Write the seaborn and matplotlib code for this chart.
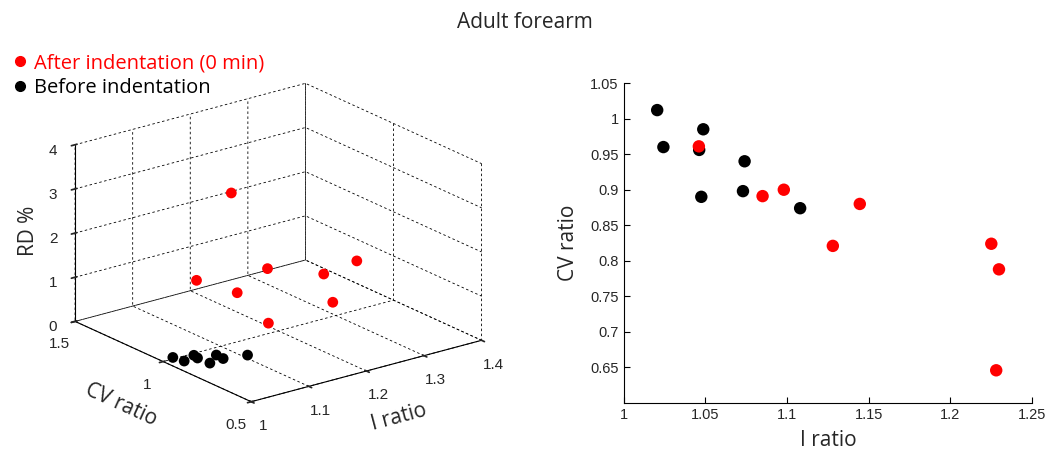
import numpy as np
import pandas as pd
import matplotlib
matplotlib.use("Agg")
import matplotlib.pyplot as plt
import seaborn as sns
from matplotlib.lines import Line2D

# values
before_i = [1.0205, 1.0243, 1.0462, 1.0487, 1.0475, 1.074, 1.073, 1.108]
before_cv = [1.012, 0.960, 0.956, 0.985, 0.890, 0.940, 0.898, 0.874]
before_rd = [0, 0, 0, 0, 0, 0, 0, 0]

after_i = [1.046, 1.085, 1.098, 1.128, 1.1445, 1.225, 1.2297, 1.228]
after_cv = [0.961, 0.891, 0.900, 0.821, 0.880, 0.824, 0.788, 0.646]
after_rd = [1.75, 3.72, 1.40, 0.75, 1.82, 1.52, 0.93, 2.13]

labels = ["After indentation (0 min)", "Before indentation"]
colors = {"After indentation (0 min)": "#ff0000", "Before indentation": "#000000"}

df = pd.DataFrame({
    "I ratio": before_i + after_i,
    "CV ratio": before_cv + after_cv,
    "RD": before_rd + after_rd,
    "group": [labels[1]] * len(before_i) + [labels[0]] * len(after_i),
})

sns.set_theme(style="white")
plt.rcParams["font.family"] = ["Liberation Sans", "DejaVu Sans"]
plt.rcParams["grid.linestyle"] = (0, (3, 3))
plt.rcParams["grid.color"] = "black"
plt.rcParams["grid.linewidth"] = 0.6

label_font = {"family": "Open Sans", "size": 15}

fig = plt.figure(figsize=(10.5, 4.59), dpi=100)
fig.text(0.5, 0.95, "Adult forearm", ha="center", va="center", fontsize=15, family="Open Sans")

# ---- left: 3D view ----
ax3 = fig.add_axes([0.0, 0.03, 0.52, 0.86], projection="3d", proj_type="ortho")
ax3.set_box_aspect((1, 1, 0.65), zoom=1.11)
ax3.view_init(elev=20.4, azim=-127.4)
for g in labels:
    sub = df[df["group"] == g]
    ax3.scatter(sub["I ratio"], sub["CV ratio"], sub["RD"], color=colors[g], s=60,
                depthshade=False, edgecolors="none")
ax3.set_xlim(1, 1.4)
ax3.set_ylim(0.5, 1.5)
ax3.set_zlim(0, 4)
ax3.set_xticks([1, 1.1, 1.2, 1.3, 1.4])
ax3.set_yticks([0.5, 1, 1.5])
ax3.set_zticks([0, 1, 2, 3, 4])
ax3.set_xticklabels(["1", "1.1", "1.2", "1.3", "1.4"])
ax3.set_yticklabels(["0.5", "1", "1.5"])
for a in (ax3.xaxis, ax3.yaxis, ax3.zaxis):
    a.set_pane_color((1, 1, 1, 0))
    a.pane.set_edgecolor("none")
    a.line.set_color("black")
    a.line.set_linewidth(0.8)
ax3.tick_params(labelsize=11, colors="#262626", pad=2)
ax3.tick_params(axis="z", pad=0)
ax3.set_xlabel("I ratio", fontdict=label_font, labelpad=6)
ax3.set_ylabel("CV ratio", fontdict=label_font, labelpad=6)
ax3.zaxis.set_rotate_label(False)
ax3.set_zlabel("RD %", fontdict=label_font, labelpad=-4, rotation=90)

# ---- right: 2D scatter ----
ax = fig.add_axes([0.594, 0.122, 0.389, 0.697])
sns.scatterplot(data=df, x="I ratio", y="CV ratio", hue="group", palette=colors,
                hue_order=[labels[1], labels[0]], s=80, edgecolor="none",
                legend=False, ax=ax)
ax.set_xlim(1, 1.25)
ax.set_ylim(0.6, 1.05)
ax.set_xticks([1, 1.05, 1.1, 1.15, 1.2, 1.25])
ax.set_xticklabels(["1", "1.05", "1.1", "1.15", "1.2", "1.25"])
ax.set_yticks([0.65, 0.7, 0.75, 0.8, 0.85, 0.9, 0.95, 1, 1.05])
ax.set_yticklabels(["0.65", "0.7", "0.75", "0.8", "0.85", "0.9", "0.95", "1", "1.05"])
sns.despine(ax=ax)
for s in ("left", "bottom"):
    ax.spines[s].set_color("black")
    ax.spines[s].set_linewidth(0.8)
ax.tick_params(direction="in", length=4, width=0.8, labelsize=10.5,
               colors="black", labelcolor="#262626", left=True, bottom=True)
ax.set_xlabel("I ratio", fontdict=label_font, labelpad=6)
ax.set_ylabel("CV ratio", fontdict=label_font, labelpad=8)

handles = [Line2D([], [], marker="o", linestyle="none", color=colors[g], markersize=7)
           for g in labels]
fig.legend(handles, labels, loc="upper left", bbox_to_anchor=(0.0, 0.91), frameon=False,
           prop={"family": "Open Sans", "size": 14.5}, labelcolor=[colors[g] for g in labels],
           handletextpad=0.3, handlelength=0.8, borderaxespad=0.2, labelspacing=0.25)

fig.savefig("out.png", dpi=100)
